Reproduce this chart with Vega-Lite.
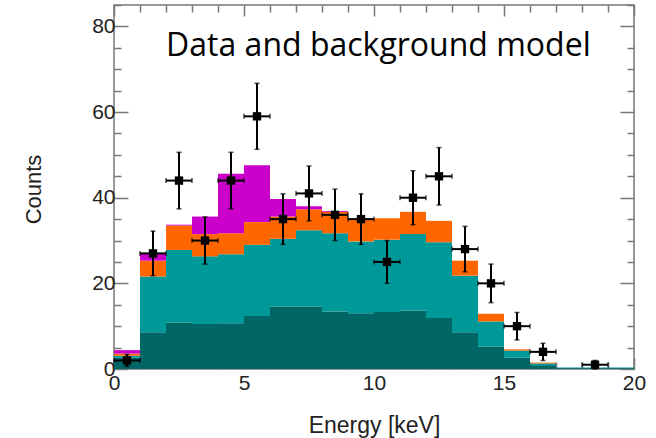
{
  "$schema": "https://vega.github.io/schema/vega-lite/v6.json",
  "width": 520,
  "height": 364,
  "autosize": "none",
  "padding": {"left": 114, "top": 5, "right": 22, "bottom": 69},
  "background": "white",
  "config": {
    "view": {"stroke": "#777777", "strokeWidth": 1.5},
    "axis": {
      "domain": false,
      "grid": false,
      "labelFont": "Liberation Sans",
      "labelFontSize": 21,
      "labelColor": "#222222",
      "titleFont": "Liberation Sans",
      "titleFontSize": 22,
      "titleFontWeight": "normal",
      "titleColor": "#222222",
      "tickColor": "#777777",
      "tickWidth": 1.5
    }
  },
  "datasets": {
    "bg": [
      {"lo": 0, "hi": 1, "comp": "a", "value": 2.7},
      {"lo": 0, "hi": 1, "comp": "b", "value": 0.4},
      {"lo": 0, "hi": 1, "comp": "c", "value": 0.5},
      {"lo": 0, "hi": 1, "comp": "d", "value": 0.8},
      {"lo": 1, "hi": 2, "comp": "a", "value": 8.6},
      {"lo": 1, "hi": 2, "comp": "b", "value": 13.0},
      {"lo": 1, "hi": 2, "comp": "c", "value": 3.7},
      {"lo": 1, "hi": 2, "comp": "d", "value": 1.8},
      {"lo": 2, "hi": 3, "comp": "a", "value": 10.8},
      {"lo": 2, "hi": 3, "comp": "b", "value": 17.0},
      {"lo": 2, "hi": 3, "comp": "c", "value": 5.7},
      {"lo": 2, "hi": 3, "comp": "d", "value": 0.2},
      {"lo": 3, "hi": 4, "comp": "a", "value": 10.5},
      {"lo": 3, "hi": 4, "comp": "b", "value": 15.8},
      {"lo": 3, "hi": 4, "comp": "c", "value": 5.2},
      {"lo": 3, "hi": 4, "comp": "d", "value": 4.1},
      {"lo": 4, "hi": 5, "comp": "a", "value": 10.7},
      {"lo": 4, "hi": 5, "comp": "b", "value": 16.1},
      {"lo": 4, "hi": 5, "comp": "c", "value": 4.9},
      {"lo": 4, "hi": 5, "comp": "d", "value": 13.9},
      {"lo": 5, "hi": 6, "comp": "a", "value": 12.4},
      {"lo": 5, "hi": 6, "comp": "b", "value": 16.6},
      {"lo": 5, "hi": 6, "comp": "c", "value": 5.3},
      {"lo": 5, "hi": 6, "comp": "d", "value": 13.3},
      {"lo": 6, "hi": 7, "comp": "a", "value": 14.6},
      {"lo": 6, "hi": 7, "comp": "b", "value": 15.8},
      {"lo": 6, "hi": 7, "comp": "c", "value": 5.2},
      {"lo": 6, "hi": 7, "comp": "d", "value": 4.1},
      {"lo": 7, "hi": 8, "comp": "a", "value": 14.6},
      {"lo": 7, "hi": 8, "comp": "b", "value": 17.8},
      {"lo": 7, "hi": 8, "comp": "c", "value": 4.9},
      {"lo": 7, "hi": 8, "comp": "d", "value": 0.7},
      {"lo": 8, "hi": 9, "comp": "a", "value": 13.4},
      {"lo": 8, "hi": 9, "comp": "b", "value": 18.3},
      {"lo": 8, "hi": 9, "comp": "c", "value": 5.0},
      {"lo": 8, "hi": 9, "comp": "d", "value": 0.2},
      {"lo": 9, "hi": 10, "comp": "a", "value": 13.0},
      {"lo": 9, "hi": 10, "comp": "b", "value": 16.8},
      {"lo": 9, "hi": 10, "comp": "c", "value": 5.4},
      {"lo": 10, "hi": 11, "comp": "a", "value": 13.3},
      {"lo": 10, "hi": 11, "comp": "b", "value": 16.9},
      {"lo": 10, "hi": 11, "comp": "c", "value": 5.0},
      {"lo": 11, "hi": 12, "comp": "a", "value": 13.6},
      {"lo": 11, "hi": 12, "comp": "b", "value": 17.9},
      {"lo": 11, "hi": 12, "comp": "c", "value": 5.2},
      {"lo": 12, "hi": 13, "comp": "a", "value": 11.9},
      {"lo": 12, "hi": 13, "comp": "b", "value": 17.7},
      {"lo": 12, "hi": 13, "comp": "c", "value": 5.0},
      {"lo": 13, "hi": 14, "comp": "a", "value": 8.6},
      {"lo": 13, "hi": 14, "comp": "b", "value": 13.2},
      {"lo": 13, "hi": 14, "comp": "c", "value": 3.5},
      {"lo": 14, "hi": 15, "comp": "a", "value": 5.2},
      {"lo": 14, "hi": 15, "comp": "b", "value": 5.9},
      {"lo": 14, "hi": 15, "comp": "c", "value": 1.8},
      {"lo": 15, "hi": 16, "comp": "a", "value": 2.7},
      {"lo": 15, "hi": 16, "comp": "b", "value": 1.6},
      {"lo": 15, "hi": 16, "comp": "c", "value": 0.3},
      {"lo": 16, "hi": 17, "comp": "a", "value": 0.9},
      {"lo": 16, "hi": 17, "comp": "b", "value": 0.4},
      {"lo": 16, "hi": 17, "comp": "c", "value": 0.2},
      {"lo": 17, "hi": 18, "comp": "a", "value": 0.2},
      {"lo": 17, "hi": 18, "comp": "b", "value": 0.15},
      {"lo": 18, "hi": 19, "comp": "a", "value": 0.2},
      {"lo": 18, "hi": 19, "comp": "b", "value": 0.15},
      {"lo": 19, "hi": 20, "comp": "a", "value": 0.2},
      {"lo": 19, "hi": 20, "comp": "b", "value": 0.15}
    ],
    "pts": [
      {"E": 0.5, "Elo": 0, "Ehi": 1, "N": 2, "Nlo": 0.6, "Nhi": 3.4},
      {"E": 1.5, "Elo": 1, "Ehi": 2, "N": 27, "Nlo": 21.8, "Nhi": 32.2},
      {"E": 2.5, "Elo": 2, "Ehi": 3, "N": 44, "Nlo": 37.4, "Nhi": 50.6},
      {"E": 3.5, "Elo": 3, "Ehi": 4, "N": 30, "Nlo": 24.5, "Nhi": 35.5},
      {"E": 4.5, "Elo": 4, "Ehi": 5, "N": 44, "Nlo": 37.4, "Nhi": 50.6},
      {"E": 5.5, "Elo": 5, "Ehi": 6, "N": 59, "Nlo": 51.3, "Nhi": 66.7},
      {"E": 6.5, "Elo": 6, "Ehi": 7, "N": 35, "Nlo": 29.1, "Nhi": 40.9},
      {"E": 7.5, "Elo": 7, "Ehi": 8, "N": 41, "Nlo": 34.6, "Nhi": 47.4},
      {"E": 8.5, "Elo": 8, "Ehi": 9, "N": 36, "Nlo": 30.0, "Nhi": 42.0},
      {"E": 9.5, "Elo": 9, "Ehi": 10, "N": 35, "Nlo": 29.1, "Nhi": 40.9},
      {"E": 10.5, "Elo": 10, "Ehi": 11, "N": 25, "Nlo": 20.0, "Nhi": 30.0},
      {"E": 11.5, "Elo": 11, "Ehi": 12, "N": 40, "Nlo": 33.7, "Nhi": 46.3},
      {"E": 12.5, "Elo": 12, "Ehi": 13, "N": 45, "Nlo": 38.3, "Nhi": 51.7},
      {"E": 13.5, "Elo": 13, "Ehi": 14, "N": 28, "Nlo": 22.7, "Nhi": 33.3},
      {"E": 14.5, "Elo": 14, "Ehi": 15, "N": 20, "Nlo": 15.5, "Nhi": 24.5},
      {"E": 15.5, "Elo": 15, "Ehi": 16, "N": 10, "Nlo": 6.8, "Nhi": 13.2},
      {"E": 16.5, "Elo": 16, "Ehi": 17, "N": 4, "Nlo": 2.0, "Nhi": 6.0},
      {"E": 18.5, "Elo": 18, "Ehi": 19, "N": 1, "Nlo": 0, "Nhi": 2.0}
    ],
    "label": [
      {"x": 10.17, "y": 73.1, "text": "Data and background model"}
    ]
  },
  "resolve": {"axis": {"x": "independent", "y": "independent"}},
  "layer": [
    {
      "data": {"name": "bg"},
      "transform": [
        {"stack": "value", "groupby": ["lo"], "sort": [{"field": "comp", "order": "ascending"}], "as": ["y0", "y1"]}
      ],
      "mark": {"type": "bar", "stroke": null, "strokeWidth": 0},
      "encoding": {
        "x": {
          "field": "lo", "type": "quantitative",
          "scale": {"domain": [0, 20], "nice": false, "zero": false},
          "axis": {
            "title": "Energy [keV]",
            "titleFontSize": 23,
            "values": [0,1,2,3,4,5,6,7,8,9,10,11,12,13,14,15,16,17,18,19,20],
            "labelExpr": "datum.value % 5 === 0 ? datum.label : ''",
            "tickSize": {"condition": {"test": "datum.value % 5 === 0", "value": -11}, "value": -7},
            "labelPadding": 14,
            "labelFlush": false,
            "titleX": 260,
            "titleY": 63,
            "titleBaseline": "alphabetic",
            "titleAlign": "center"
          }
        },
        "x2": {"field": "hi"},
        "y": {
          "field": "y0", "type": "quantitative",
          "scale": {"domain": [0, 85], "nice": false},
          "axis": {
            "title": "Counts",
            "values": [0,5,10,15,20,25,30,35,40,45,50,55,60,65,70,75,80,85],
            "labelExpr": "datum.value % 20 === 0 ? datum.label : ''",
            "tickSize": {"condition": {"test": "datum.value % 20 === 0", "value": -14}, "value": -7},
            "labelPadding": 13,
            "labelFlush": false,
            "titleX": -81,
            "titleY": 184,
            "titleAngle": -90,
            "titleBaseline": "middle",
            "titleAlign": "center"
          }
        },
        "y2": {"field": "y1"},
        "color": {
          "field": "comp", "type": "nominal",
          "scale": {"domain": ["a", "b", "c", "d"], "range": ["#006666", "#009999", "#FF6600", "#CC00CC"]},
          "legend": null
        }
      }
    },
    {
      "data": {"name": "pts"},
      "mark": {"type": "rule", "color": "black", "strokeWidth": 2},
      "encoding": {
        "x": {"field": "E", "type": "quantitative", "axis": null},
        "y": {"field": "Nlo", "type": "quantitative", "axis": null},
        "y2": {"field": "Nhi"}
      }
    },
    {
      "data": {"name": "pts"},
      "mark": {"type": "rule", "color": "black", "strokeWidth": 2},
      "encoding": {
        "x": {"field": "Elo", "type": "quantitative", "axis": null},
        "x2": {"field": "Ehi"},
        "y": {"field": "N", "type": "quantitative", "axis": null}
      }
    },
    {
      "data": {"name": "pts"},
      "mark": {"type": "tick", "color": "black", "thickness": 1.5, "size": 5, "orient": "horizontal"},
      "encoding": {
        "x": {"field": "E", "type": "quantitative", "axis": null},
        "y": {"field": "Nlo", "type": "quantitative", "axis": null}
      }
    },
    {
      "data": {"name": "pts"},
      "mark": {"type": "tick", "color": "black", "thickness": 1.5, "size": 5, "orient": "horizontal"},
      "encoding": {
        "x": {"field": "E", "type": "quantitative", "axis": null},
        "y": {"field": "Nhi", "type": "quantitative", "axis": null}
      }
    },
    {
      "data": {"name": "pts"},
      "mark": {"type": "tick", "color": "black", "thickness": 1.5, "size": 5, "orient": "vertical"},
      "encoding": {
        "x": {"field": "Elo", "type": "quantitative", "axis": null},
        "y": {"field": "N", "type": "quantitative", "axis": null}
      }
    },
    {
      "data": {"name": "pts"},
      "mark": {"type": "tick", "color": "black", "thickness": 1.5, "size": 5, "orient": "vertical"},
      "encoding": {
        "x": {"field": "Ehi", "type": "quantitative", "axis": null},
        "y": {"field": "N", "type": "quantitative", "axis": null}
      }
    },
    {
      "data": {"name": "pts"},
      "mark": {"type": "point", "shape": "square", "filled": true, "color": "black", "opacity": 1, "size": 70},
      "encoding": {
        "x": {"field": "E", "type": "quantitative", "axis": null},
        "y": {"field": "N", "type": "quantitative", "axis": null}
      }
    },
    {
      "data": {"name": "label"},
      "mark": {"type": "text", "font": "Open Sans", "fontSize": 32, "align": "center", "baseline": "alphabetic", "color": "black"},
      "encoding": {
        "x": {"field": "x", "type": "quantitative", "axis": null},
        "y": {"field": "y", "type": "quantitative", "axis": null},
        "text": {"field": "text"}
      }
    },
    {
      "data": {"name": "pts"},
      "mark": {"type": "point", "opacity": 0},
      "encoding": {
        "x": {
          "field": "E", "type": "quantitative",
          "axis": {
            "orient": "top", "title": null, "labels": false,
            "values": [0,1,2,3,4,5,6,7,8,9,10,11,12,13,14,15,16,17,18,19,20],
            "tickSize": {"condition": {"test": "datum.value % 5 === 0", "value": -11}, "value": -7}
          }
        },
        "y": {
          "field": "N", "type": "quantitative",
          "axis": {
            "orient": "right", "title": null, "labels": false,
            "values": [0,5,10,15,20,25,30,35,40,45,50,55,60,65,70,75,80,85],
            "tickSize": {"condition": {"test": "datum.value % 20 === 0", "value": -14}, "value": -7}
          }
        }
      }
    }
  ]
}
